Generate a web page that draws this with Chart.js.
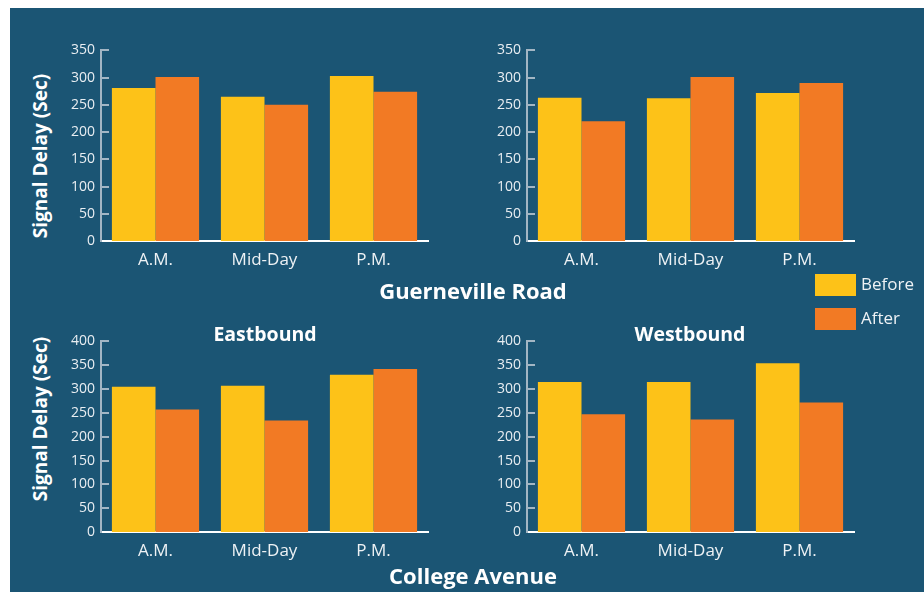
<!DOCTYPE html>
<html>
<head>
<meta charset="utf-8">
<script src="https://cdn.jsdelivr.net/npm/chart.js@4/dist/chart.umd.min.js"></script>
<style>
    body { margin: 0; background: #ffffff; font-family: 'Open Sans', sans-serif; }
    #page { position: relative; width: 924px; height: 592px; overflow: hidden; }
    #panel { position: absolute; left: 10px; top: 8px; width: 914px; height: 584px; background: #1b5574; }
    canvas { position: absolute; }
    .label { position: absolute; color: #ffffff; font-weight: bold; white-space: nowrap; }
    .ytitle { position: absolute; color: #ffffff; font-weight: bold; font-size: 19px; white-space: nowrap;
              transform: translate(-50%, -50%) rotate(-90deg); }
    .swatch { position: absolute; width: 41px; height: 22px; }
    .legtext { position: absolute; color: #eef2f5; font-size: 17px; }
</style>
</head>
<body>
<div id="page">
    <div id="panel"></div>

    <canvas id="guernevilleEast" width="382" height="245" style="left:56px; top:36px;"></canvas>
    <canvas id="guernevilleWest" width="382" height="245" style="left:482px; top:36px;"></canvas>
    <canvas id="collegeEast" width="382" height="245" style="left:56px; top:327px;"></canvas>
    <canvas id="collegeWest" width="382" height="245" style="left:482px; top:327px;"></canvas>

    <div class="ytitle" style="left:40px; top:156px;">Signal Delay (Sec)</div>
    <div class="ytitle" style="left:40px; top:419px;">Signal Delay (Sec)</div>

    <div class="label" style="left:473px; top:290px; font-size:22px; transform:translate(-50%,-50%);">Guerneville Road</div>
    <div class="label" style="left:473px; top:575px; font-size:22px; transform:translate(-50%,-50%);">College Avenue</div>
    <div class="label" style="left:265px; top:333px; font-size:19.5px; transform:translate(-50%,-50%);">Eastbound</div>
    <div class="label" style="left:690px; top:333px; font-size:19.5px; transform:translate(-50%,-50%);">Westbound</div>

    <div class="swatch" style="left:815px; top:274px; background:#fdc218;"></div>
    <div class="legtext" style="left:861px; top:272px;">Before</div>
    <div class="swatch" style="left:815px; top:308px; background:#f27a24;"></div>
    <div class="legtext" style="left:861px; top:306px;">After</div>
</div>

<script>
var categories = ['A.M.', 'Mid-Day', 'P.M.'];

var guernevilleEastBefore = [281, 265, 303];
var guernevilleEastAfter = [301, 250, 274];
var guernevilleWestBefore = [263, 262, 272];
var guernevilleWestAfter = [220, 301, 290];

var collegeEastBefore = [305, 307, 330];
var collegeEastAfter = [257, 234, 342];
var collegeWestBefore = [315, 315, 354];
var collegeWestAfter = [247, 236, 272];

var guernevilleMax = 350;
var collegeMax = 400;
var tickStep = 50;

var beforeColor = '#fdc218';
var afterColor = '#f27a24';
var axisGray = '#a3b6c4';

Chart.defaults.font.family = "'Open Sans', sans-serif";
Chart.defaults.color = '#e9eef2';

// small tick marks drawn on the inner side of the y axis
var innerTicks = {
    id: 'innerTicks',
    beforeDatasetsDraw: function (chart) {
        var y = chart.scales.y;
        var ctx = chart.ctx;
        ctx.save();
        ctx.strokeStyle = axisGray;
        ctx.lineWidth = 2;
        y.ticks.forEach(function (t) {
            if (t.value === 0) return;
            var py = Math.round(y.getPixelForValue(t.value));
            ctx.beginPath();
            ctx.moveTo(y.right, py);
            ctx.lineTo(y.right + 8, py);
            ctx.stroke();
        });
        ctx.restore();
    }
};

function makeChart(id, before, after, yMax) {
    var ctx = document.getElementById(id).getContext('2d');
    return new Chart(ctx, {
        type: 'bar',
        data: {
            labels: categories,
            datasets: [{
                label: 'Before',
                data: before,
                backgroundColor: beforeColor,
                borderWidth: 0,
                categoryPercentage: 0.8,
                barPercentage: 1.0
            }, {
                label: 'After',
                data: after,
                backgroundColor: afterColor,
                borderWidth: 0,
                categoryPercentage: 0.8,
                barPercentage: 1.0
            }]
        },
        plugins: [innerTicks],
        options: {
            responsive: false,
            animation: false,
            layout: {
                padding: { top: 12, right: 10, bottom: 0, left: 0 }
            },
            plugins: {
                legend: { display: false },
                tooltip: { enabled: false }
            },
            scales: {
                x: {
                    offset: true,
                    grid: { display: false, drawTicks: false },
                    border: { display: true, color: '#ffffff', width: 2 },
                    ticks: { padding: 9, font: { size: 17 }, color: '#eef2f5' },
                    afterFit: function (scale) { scale.height = 40; }
                },
                y: {
                    min: 0,
                    max: yMax,
                    grid: { display: false, drawTicks: false },
                    border: { display: true, color: axisGray, width: 2 },
                    ticks: { stepSize: tickStep, padding: 6, font: { size: 14 }, color: '#e9eef2' },
                    afterFit: function (scale) { scale.width = 45; }
                }
            }
        }
    });
}

makeChart('guernevilleEast', guernevilleEastBefore, guernevilleEastAfter, guernevilleMax);
makeChart('guernevilleWest', guernevilleWestBefore, guernevilleWestAfter, guernevilleMax);
makeChart('collegeEast', collegeEastBefore, collegeEastAfter, collegeMax);
makeChart('collegeWest', collegeWestBefore, collegeWestAfter, collegeMax);
</script>
</body>
</html>
